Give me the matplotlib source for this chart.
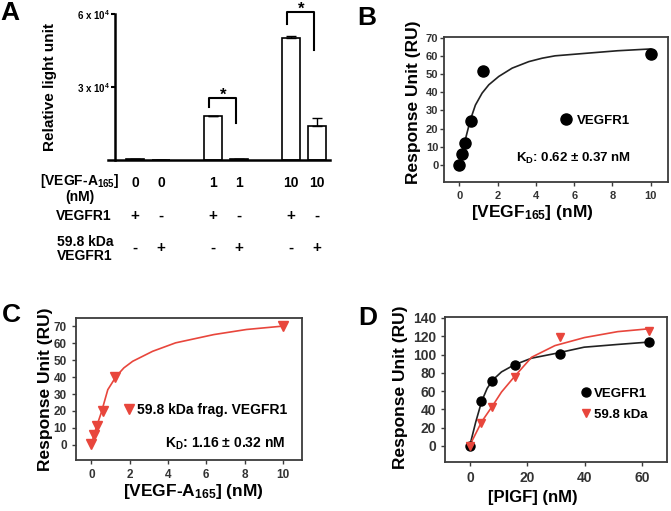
import matplotlib
matplotlib.use('Agg')
import matplotlib.pyplot as plt
from matplotlib.transforms import blended_transform_factory

plt.rcParams['font.family'] = ['Liberation Sans', 'DejaVu Sans']
plt.rcParams['font.weight'] = 'bold'
plt.rcParams['axes.labelweight'] = 'bold'
plt.rcParams['mathtext.fontset'] = 'custom'
plt.rcParams['mathtext.rm'] = 'Liberation Sans:bold'
plt.rcParams['mathtext.it'] = 'Liberation Sans:bold'
plt.rcParams['mathtext.bf'] = 'Liberation Sans:bold'

# ---------------------------------------------------------------------------
# Data
# ---------------------------------------------------------------------------

# Panel A - luciferase readout
a_conc = ['0', '0', '1', '1', '10', '10']
a_vegfr1 = ['+', '-', '+', '-', '+', '-']
a_frag = ['-', '+', '-', '+', '-', '+']
a_values = [400, 200, 18000, 400, 50000, 14000]
a_err = [0, 0, 200, 0, 900, 3300]
a_yticks = [30000, 60000]
a_yticklabels = [r'3 x 10$^{4}$', r'6 x 10$^{4}$']
# significance brackets: left bar, right bar, left leg end, right leg end, top
a_brackets = [(2, 3, 21800, 15200, 25500), (4, 5, 55900, 45200, 60800)]

# Panel B - VEGF165 on VEGFR1
b_conc = [0, 0.156, 0.3125, 0.625, 1.25, 10]
b_ru = [0, 5.7, 11.8, 24, 51.6, 61]
b_fit_x = [0.14, 0.31, 0.58, 0.84, 1.19, 1.54, 2.06, 2.76, 3.63, 4.33, 5.0, 6.5, 8.26, 10]
b_fit_y = [6.6, 13.8, 24.9, 33, 39.6, 44.2, 48.8, 53.4, 57, 58.9, 60.2, 61.5, 63, 64]

# Panel C - VEGF-A165 on 59.8 kDa fragment
c_conc = [0, 0.156, 0.3125, 0.625, 1.25, 10]
c_ru = [0.4, 5.5, 10.9, 19.8, 40, 70]
c_fit_x = [0, 0.25, 0.52, 0.86, 1.3, 1.7, 2.16, 3.2, 4.4, 5.5, 6.4, 8.1, 10]
c_fit_y = [0, 10, 19, 32.6, 40.5, 45.5, 49.4, 55.3, 60.3, 63, 65.2, 68.2, 70.2]

# Panel D - PlGF on both receptors
d_conc = [0, 3.9, 7.8, 15.6, 31.25, 62.5]
d_vegfr1 = [0, 49, 71.5, 88, 100.5, 114]
d_frag = [0, 25.5, 43, 75.5, 119.5, 125.5]
d_fit1_x = [0, 2, 4.1, 6, 7.9, 11, 15.4, 21.5, 29.6, 39.8, 51.5, 62]
d_fit1_y = [1, 26, 49, 63, 72, 81, 88.6, 96, 101, 108, 111, 113.5]
d_fit2_x = [0, 4.1, 7.9, 11, 15.5, 21.5, 29.6, 39.9, 51.5, 62]
d_fit2_y = [1, 26.6, 44, 59, 75.8, 97, 109.7, 118.5, 125, 128]

RED = '#e8463c'
FRAME = '#3c3c3c'

fig = plt.figure(figsize=(6.71, 5.11), dpi=100)
W, H = 671, 511


def px_axes(left, top, right, bottom):
    return fig.add_axes([left / W, 1 - bottom / H, (right - left) / W, (bottom - top) / H])


def style_box(ax, fs):
    for s in ax.spines.values():
        s.set_color(FRAME)
        s.set_linewidth(1.3)
    ax.tick_params(direction='out', length=3, width=1, color=FRAME,
                   labelsize=fs, labelcolor='#333333', top=False, right=False)


# ---------------------------------------------------------------------------
# A
# ---------------------------------------------------------------------------
axA = px_axes(108, 14, 330, 160)
pos = [0, 1, 3, 4, 6, 7]
axA.bar(pos, a_values, width=0.72, color='white', edgecolor='black', linewidth=1.2,
        yerr=[[0] * len(a_err), a_err], capsize=3.5,
        error_kw=dict(elinewidth=1.0, capthick=1.0, ecolor='black'))
axA.set_xlim(-1.04, 7.5)
axA.set_ylim(0, 60000)
axA.spines['top'].set_visible(False)
axA.spines['right'].set_visible(False)
axA.spines['left'].set_position(('data', -0.77))
axA.spines['left'].set_linewidth(1.8)
axA.spines['bottom'].set_linewidth(1.8)
axA.set_xticks([])
axA.set_yticks(a_yticks)
axA.set_yticklabels(a_yticklabels)
axA.tick_params(axis='y', direction='out', length=3, width=1.5, labelsize=7, pad=1)
axA.set_ylabel('Relative light unit', fontsize=11)
axA.yaxis.set_label_coords(-0.23, 0.5)

for i, j, yl, yr, yt in a_brackets:
    xl, xr = pos[i] - 0.15, pos[j] - 0.1
    axA.plot([xl, xl, xr, xr], [yl, yt, yt, yr], color='black', lw=1.5, clip_on=False)
    axA.text((xl + xr) / 2, yt - 900, '*', ha='center', va='baseline', fontsize=12,
             clip_on=False)

tr = blended_transform_factory(axA.transData, fig.transFigure)
row_y = [1 - 183 / H, 1 - 216 / H, 1 - 248 / H]
for k, p in enumerate(pos):
    axA.text(p, row_y[0], a_conc[k], transform=tr, ha='center', va='center', fontsize=10)
    axA.text(p, row_y[1], a_vegfr1[k], transform=tr, ha='center', va='center', fontsize=11)
    axA.text(p, row_y[2], a_frag[k], transform=tr, ha='center', va='center', fontsize=11)
fig.text(80 / W, 1 - 188 / H, '[VEGF-A$_{165}$]\n(nM)', ha='center', va='center',
         fontsize=10, linespacing=1.05)
fig.text(84 / W, 1 - 216 / H, 'VEGFR1', ha='center', va='center', fontsize=10)
fig.text(85 / W, 1 - 249 / H, '59.8 kDa\nVEGFR1', ha='center', va='center',
         fontsize=10, linespacing=1.05)

# ---------------------------------------------------------------------------
# B
# ---------------------------------------------------------------------------
axB = px_axes(444, 37, 668, 182)
axB.plot(b_fit_x, b_fit_y, color='#222222', lw=1.2)
axB.plot(b_conc, b_ru, 'o', color='black', ms=8, linestyle='none', label='VEGFR1')
axB.set_xlim(-0.8, 10.9)
axB.set_ylim(-9.5, 70.6)
axB.set_xticks(range(0, 11, 2))
axB.set_yticks(range(0, 71, 10))
style_box(axB, 8)
axB.tick_params(axis='y', pad=1)
axB.set_ylabel('Response Unit (RU)', fontsize=12.5)
axB.yaxis.set_label_coords(-0.103, 0.55)
axB.set_xlabel('[VEGF$_{165}$] (nM)', fontsize=12.5)
axB.xaxis.set_label_coords(0.393, -0.145)
axB.legend(loc='center left', bbox_to_anchor=(0.521, 0.421), frameon=False,
           fontsize=9.5, handlelength=0.8, handletextpad=0.4, borderpad=0,
           borderaxespad=0, markerscale=1.0)
axB.text(0.58, 0.159, 'K$_{D}$: 0.62 ± 0.37 nM', transform=axB.transAxes,
         ha='center', va='center', fontsize=9.5)

# ---------------------------------------------------------------------------
# C
# ---------------------------------------------------------------------------
axC = px_axes(76, 318, 302, 460)
axC.plot(c_fit_x, c_fit_y, color=RED, lw=1.2)
axC.plot(c_conc, c_ru, 'v', color=RED, ms=7.5, linestyle='none',
         label='59.8 kDa frag. VEGFR1')
axC.set_xlim(-0.8, 11.0)
axC.set_ylim(-9, 75)
axC.set_xticks(range(0, 11, 2))
axC.set_yticks(range(0, 71, 10))
style_box(axC, 8.5)
axC.set_ylabel('Response Unit (RU)', fontsize=12.5)
axC.yaxis.set_label_coords(-0.102, 0.496)
axC.set_xlabel('[VEGF-A$_{165}$] (nM)', fontsize=12.5)
axC.xaxis.set_label_coords(0.518, -0.155)
axC.legend(loc='center left', bbox_to_anchor=(0.21, 0.352), frameon=False,
           fontsize=10, handlelength=0.8, handletextpad=0.2, borderpad=0,
           borderaxespad=0)
axC.text(0.925, 0.113, 'K$_{D}$: 1.16 ± 0.32 nM', transform=axC.transAxes,
         ha='right', va='center', fontsize=10)

# ---------------------------------------------------------------------------
# D
# ---------------------------------------------------------------------------
axD = px_axes(445, 317, 667, 462)
axD.plot(d_fit1_x, d_fit1_y, color='#222222', lw=1.2)
axD.plot(d_fit2_x, d_fit2_y, color=RED, lw=1.2)
axD.plot(d_conc, d_vegfr1, 'o', color='black', ms=6.5, linestyle='none', label='VEGFR1')
axD.plot(d_conc, d_frag, 'v', color=RED, ms=6, linestyle='none', label='59.8 kDa')
axD.set_xlim(-8.7, 68.7)
axD.set_ylim(-17.5, 141)
axD.set_xticks(range(0, 61, 20))
axD.set_yticks(range(0, 141, 20))
style_box(axD, 10)
axD.set_ylabel('Response Unit (RU)', fontsize=12.5)
axD.yaxis.set_label_coords(-0.167, 0.514)
axD.set_xlabel('[PIGF] (nM)', fontsize=12)
axD.xaxis.set_label_coords(0.396, -0.193)
axD.legend(loc='center left', bbox_to_anchor=(0.61, 0.40), frameon=False,
           fontsize=9.5, handlelength=0.8, handletextpad=0.25, borderpad=0,
           borderaxespad=0, labelspacing=0.67)

# panel letters
for letter, x, y in [('A', 0, 1), ('B', 357, 6), ('C', 2, 303), ('D', 358, 306)]:
    fig.text(x / W, 1 - y / H, letter, ha='left', va='top', fontsize=19, fontweight='bold')

fig.savefig('out.png', dpi=100)
